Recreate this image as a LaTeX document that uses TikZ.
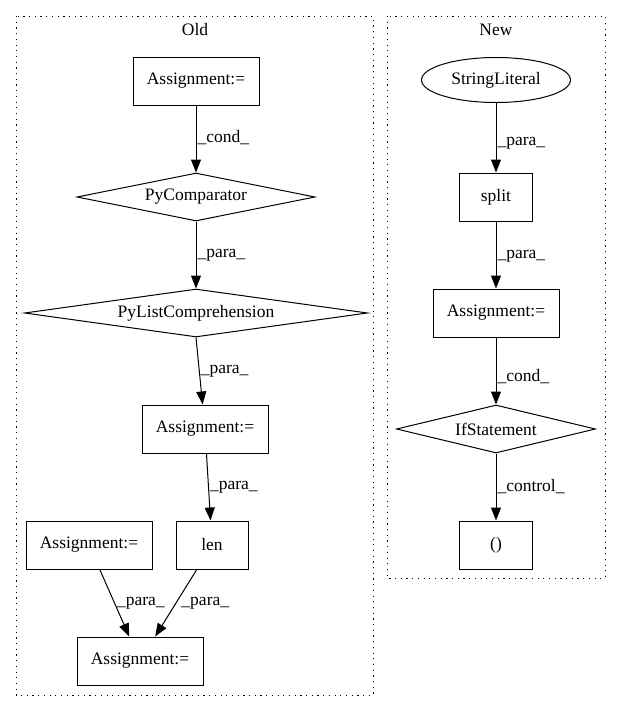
\documentclass[tikz,border=0pt]{standalone}
\usepackage{fontspec}
\setmainfont{Liberation Serif}
\usetikzlibrary{shapes.geometric,arrows.meta}

\begin{document}
\begin{tikzpicture}[x=1pt, y=-1pt,
	boxnode/.style={rectangle, draw, line width=1pt, minimum width=#1, minimum height=48pt, inner sep=0pt, font=\fontsize{17.5}{20}\selectfont},
	boxnode/.default=126pt,
	decnode/.style={diamond, draw, line width=1pt, minimum width=#1, minimum height=48pt, aspect=5, inner sep=0pt, font=\fontsize{17.5}{20}\selectfont},
	ovalnode/.style={ellipse, draw, line width=1pt, minimum width=149pt, minimum height=45pt, inner sep=0pt, font=\fontsize{17.5}{20}\selectfont},
	titlenode/.style={font=\fontsize{17.5}{20}\selectfont},
	cluster/.style={line width=1pt, dash pattern=on 1.2pt off 4.5pt},
	flow/.style={-{Triangle[length=13pt,width=10pt]}, line width=1pt},
	lbl/.style={anchor=west, inner sep=1pt, font=\fontsize{17.5}{20}\selectfont},
	]
	\useasboundingbox (0,0) rectangle (621,712);

	%Clusters
	\draw[cluster] (16,16) rectangle (373,695);
	\draw[cluster] (387,16) rectangle (605,578);
	\node[titlenode]	(oldtitle)	at (195,30)		{Old};
	\node[titlenode]	(newtitle)	at (496,30)		{New};

	%Nodes old
	\node[boxnode]			(asgtop)	at (196,81)		{Assignment:=};
	\node[decnode=238pt]	(pycmp)		at (196,197)	{PyComparator};
	\node[decnode=343pt]	(pylist)	at (196,313)	{PyListComprehension};
	\node[boxnode]			(asgmid)	at (205,429)	{Assignment:=};
	\node[boxnode=72pt]		(len)		at (212,545)	{len};
	\node[boxnode]			(asgleft)	at (89,545)		{Assignment:=};
	\node[boxnode]			(asgbot)	at (140,661)	{Assignment:=};

	%Nodes new
	\node[ovalnode]			(strlit)	at (496,80)		{StringLiteral};
	\node[boxnode=73pt]		(split)		at (496,197)	{split};
	\node[boxnode]			(asgnew)	at (496,313)	{Assignment:=};
	\node[decnode=199pt]	(ifstmt)	at (496,429)	{IfStatement};
	\node[boxnode=73pt]		(paren)		at (496,545)	{()};

	%Lines
	\draw[flow] (asgtop) -- node[lbl, pos=0.48] {\_cond\_} (pycmp);
	\draw[flow] (pycmp) -- node[lbl] {\_para\_} (pylist);
	\draw[flow] (pylist.south) -- node[lbl] {\_para\_} (asgmid);
	\draw[flow] (asgmid) -- node[lbl] {\_para\_} (len);
	\draw[flow] (asgleft) -- node[lbl, xshift=1pt] {\_para\_} (asgbot);
	\draw[flow] (len) -- node[lbl, xshift=4pt] {\_para\_} (asgbot);

	\draw[flow] (strlit) -- node[lbl, pos=0.58] {\_para\_} (split);
	\draw[flow] (split) -- node[lbl, pos=0.52] {\_para\_} (asgnew);
	\draw[flow] (asgnew) -- node[lbl, pos=0.58] {\_cond\_} (ifstmt);
	\draw[flow] (ifstmt) -- node[lbl] {\_control\_} (paren);

\end{tikzpicture}
\end{document}
